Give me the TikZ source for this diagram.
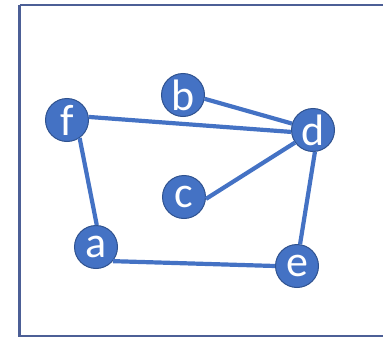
\documentclass[tikz,border=0pt]{standalone}
\usepackage{fontspec}
\setmainfont{Carlito}
\definecolor{nodeblue}{HTML}{4472C4}
\definecolor{nodeedge}{HTML}{2F528F}
\definecolor{framecol}{HTML}{4C5F96}
\begin{document}
\begin{tikzpicture}[x=1pt,y=-1pt,
  vert/.style={circle,fill=nodeblue,draw=nodeedge,line width=1pt,minimum size=43pt,inner sep=0pt,text=white,font=\fontsize{44}{44}\selectfont},
  link/.style={draw=nodeblue,line width=4.2pt}]
\useasboundingbox (0,0) rectangle (383,340);
\draw[framecol,line width=2.4pt] (19.5,5) -- (400,5) (19.5,5) -- (19.5,336) -- (400,336);
\node[vert] (f) at (67,120) {f};
\node[vert] (b) at (183,95) {b};
\node[vert] (d) at (313,130) {d};
\node[vert] (c) at (184,197) {c};
\node[vert] (a) at (96,247) {a};
\node[vert] (e) at (297,266) {e};
\path[link] (f.8) -- (d.185);
\path[link] (b.-10) -- (d.163);
\path[link] (c.-5) -- (d.215);
\path[link] (d.-85) -- (e.82);
\path[link] (f.-55) -- (a.88);
\path[link] (a.-40) -- (e.180);
\end{tikzpicture}
\end{document}
